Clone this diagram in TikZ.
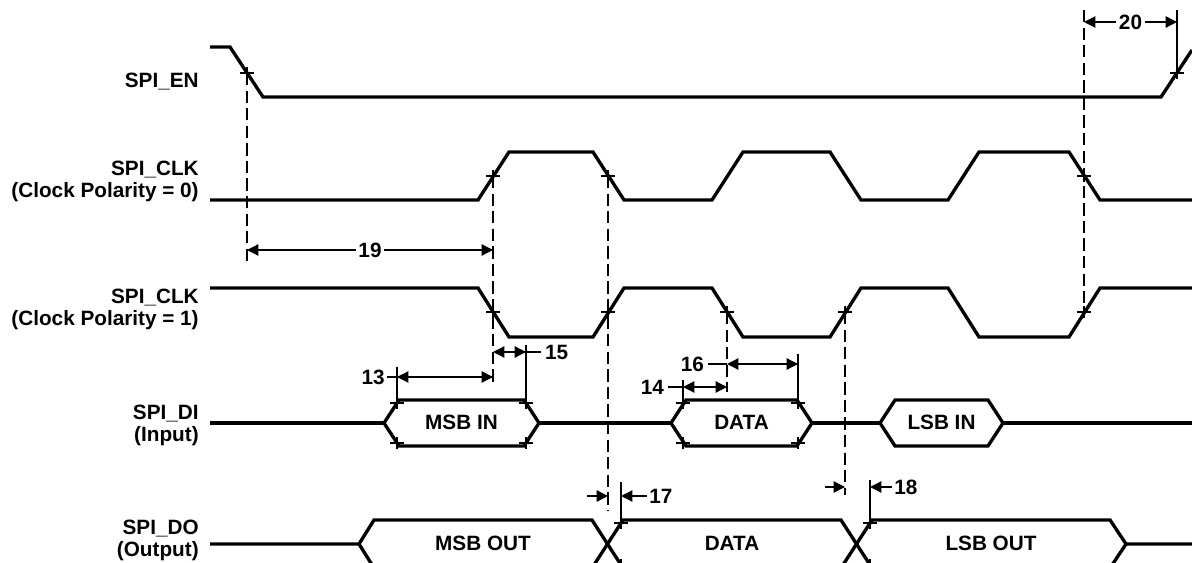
\documentclass[tikz,border=0pt]{standalone}
\usepackage{fontspec}
\setmainfont{Liberation Sans}
\usetikzlibrary{arrows.meta}

\begin{document}
\begin{tikzpicture}[
  x=0.02cm,y=-0.02cm,
  font=\fontsize{11.8}{12.5}\selectfont\bfseries,
  sig/.style={line width=1.9pt},
  thinline/.style={line width=0.7pt},
  guide/.style={line width=0.7pt,dash pattern=on 7pt off 3pt},
  dim/.style={line width=0.7pt,{Triangle[length=6.5pt,width=6.5pt]}-{Triangle[length=6.5pt,width=6.5pt]}},
  stopper/.style={line width=0.7pt,{Triangle[length=6.5pt,width=6.5pt]}-},
  signame/.style={anchor=east,align=right,inner sep=0pt},
  num/.style={inner sep=1.5pt,fill=white}
]
\useasboundingbox (0,0) rectangle (1192,563);
\clip (0,0) rectangle (1192,563);
\fill[white] (0,0) rectangle (1192,563);

% signal names
\node[signame] (en) at (199,82) {SPI\_EN};
\node[signame] (clk0) at (199,181) {SPI\_CLK\\(Clock Polarity = 0)};
\node[signame] (clk1) at (199,309) {SPI\_CLK\\(Clock Polarity = 1)};
\node[signame] (di) at (199,425) {SPI\_DI\\(Input)};
\node[signame] (do) at (199,540) {SPI\_DO\\(Output)};

% waveforms
\draw[sig] (210,47) -- (230,47) -- (263,97) -- (1161,97) -- (1192,50);
\draw[sig] (210,200) \foreach \r/\f in {478/593,712/830,948/1069} {
  -- (\r,200) -- (\r+31,152) -- (\f,152) -- (\f+31,200)} -- (1192,200);
\draw[sig] (210,288) \foreach \r/\f in {478/593,712/830,948/1069} {
  -- (\r,288) -- (\r+31,337) -- (\f,337) -- (\f+31,288)} -- (1192,288);

\draw[sig] (210,423) -- (384,423) (539,423) -- (671,423) (812,423) -- (880,423) (1003,423) -- (1192,423);
\foreach \a/\b/\t/\n in {384/539/MSB IN/msbin,671/812/DATA/datain,880/1003/LSB IN/lsbin} {
  \draw[sig] (\a,423) -- (\a+15,400) -- (\b-15,400) -- (\b,423) -- (\b-15,446) -- (\a+15,446) -- cycle;
  \node (\n) at ({(\a+\b)/2},422) {\t};
}

\draw[sig] (210,544) -- (359,544) -- (374,520) -- (592,520) -- (623,568) -- (841,568) -- (872,520) -- (1110,520) -- (1126,544) -- (1192,544);
\draw[sig] (359,544) -- (374,568) -- (592,568) -- (623,520) -- (841,520) -- (872,568) -- (1110,568) -- (1126,544);
\node (msbout) at (483,543) {MSB OUT};
\node (dataout) at (732,543) {DATA};
\node (lsbout) at (991,543) {LSB OUT};

% crossing marks
\foreach \x/\y in {247/73,1177/73,493/176,608/176,1084/176,493/312,608/312,727/312,845/312,1084/312,
  397/403,397/443,526/403,526/443,683/403,683/443,798/403,798/443,621/523,621/565,870/523,870/565}
  \draw[thinline] (\x-7,\y) -- (\x+7,\y) (\x,\y-6) -- (\x,\y+6);

% reference lines
\draw[guide] (247,73) -- (247,262);
\draw[guide] (493,176) -- (493,382);
\draw[guide] (608,176) -- (608,510);
\draw[guide] (727,312) -- (727,392);
\draw[guide] (845,312) -- (845,495);
\draw[guide] (1084,10) -- (1084,312);
\draw[thinline] (1177,10) -- (1177,73) (397,367) -- (397,403) (526,345) -- (526,403)
  (683,380) -- (683,403) (798,354) -- (798,403) (621,482) -- (621,523) (870,480) -- (870,523);

% timing parameters
\coordinate (m13a) at (397,377); \coordinate (m13b) at (493,377);
\coordinate (m14a) at (683,387); \coordinate (m14b) at (727,387);
\coordinate (m15a) at (493,352); \coordinate (m15b) at (526,352);
\coordinate (m16a) at (727,364); \coordinate (m16b) at (798,364);
\coordinate (m17a) at (608,496); \coordinate (m17b) at (621,496);
\coordinate (m18a) at (845,487); \coordinate (m18b) at (870,487);
\coordinate (m19a) at (247,250); \coordinate (m19b) at (493,250);
\coordinate (m20a) at (1084,22); \coordinate (m20b) at (1177,22);

\draw[dim] (m19a) -- node[num] (t19) {19} (m19b);
\draw[dim] (m20a) -- node[num] (t20) {20} (m20b);
\draw[dim] (m13a) -- (m13b);
\draw[thinline] (m13a) -- ++(-10,0) node[anchor=east,inner sep=1pt] (t13) {13};
\draw[dim] (m14a) -- (m14b);
\draw[thinline] (m14a) -- ++(-15,0) node[anchor=east,inner sep=2pt] (t14) {14};
\draw[dim] (m15a) -- (m15b);
\draw[thinline] (m15b) -- ++(15,0) node[anchor=west,inner sep=2pt] (t15) {15};
\draw[dim] (m16a) -- (m16b);
\draw[thinline] (m16a) -- ++(-19,0) node[anchor=east,inner sep=2pt] (t16) {16};
\draw[stopper] (m17a) -- ++(-21,0);
\draw[stopper] (m17b) -- ++(26,0) node[anchor=west,inner sep=1pt] (t17) {17};
\draw[stopper] (m18a) -- ++(-20,0);
\draw[stopper] (m18b) -- ++(22,0) node[anchor=west,inner sep=1pt] (t18) {18};
\end{tikzpicture}
\end{document}
